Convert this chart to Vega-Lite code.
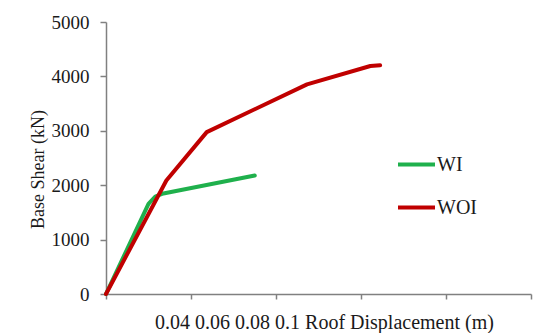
{
  "$schema": "https://vega.github.io/schema/vega-lite/v6.json",
  "width": 425,
  "height": 272,
  "autosize": "none",
  "padding": {"left": 106, "top": 22, "right": 6, "bottom": 39},
  "background": "white",
  "config": {
    "view": {"stroke": null},
    "font": "Liberation Serif"
  },
  "data": {
    "values": [
      {"series": "WI", "disp": 0, "shear": 0},
      {"series": "WI", "disp": 0.010, "shear": 1657},
      {"series": "WI", "disp": 0.0116, "shear": 1792},
      {"series": "WI", "disp": 0.0132, "shear": 1842},
      {"series": "WI", "disp": 0.035, "shear": 2179},
      {"series": "WOI", "disp": 0, "shear": 0},
      {"series": "WOI", "disp": 0.0142, "shear": 2087},
      {"series": "WOI", "disp": 0.0237, "shear": 2976},
      {"series": "WOI", "disp": 0.0473, "shear": 3854},
      {"series": "WOI", "disp": 0.0622, "shear": 4191},
      {"series": "WOI", "disp": 0.0645, "shear": 4204}
    ]
  },
  "mark": {"type": "line", "strokeWidth": 4, "strokeJoin": "round", "strokeCap": "round"},
  "encoding": {
    "x": {
      "field": "disp",
      "type": "quantitative",
      "scale": {"domain": [0, 0.1], "nice": false, "zero": true},
      "axis": {
        "values": [0, 0.02, 0.04, 0.06, 0.08, 0.1],
        "labels": false,
        "grid": false,
        "domainColor": "#808080",
        "domainWidth": 1.5,
        "tickColor": "#808080",
        "tickWidth": 1.5,
        "tickSize": 5,
        "title": "0.04 0.06 0.08 0.1 Roof Displacement (m)",
        "titleFont": "Liberation Serif",
        "titleFontSize": 20,
        "titleFontWeight": "normal",
        "titleColor": "#1a1a1a",
        "titleX": 218,
        "titleY": 34,
        "titleAlign": "center",
        "titleBaseline": "alphabetic",
        "titleAnchor": null
      }
    },
    "y": {
      "field": "shear",
      "type": "quantitative",
      "scale": {"domain": [0, 5000], "nice": false},
      "axis": {
        "values": [0, 1000, 2000, 3000, 4000, 5000],
        "format": "d",
        "grid": false,
        "domainColor": "#808080",
        "domainWidth": 1.5,
        "tickColor": "#808080",
        "tickWidth": 1.5,
        "tickSize": 6,
        "labelFont": "Liberation Serif",
        "labelFontSize": 19,
        "labelColor": "#1a1a1a",
        "labelPadding": 11,
        "title": "Base Shear (kN)",
        "titleFont": "Liberation Serif",
        "titleFontSize": 18,
        "titleFontWeight": "normal",
        "titleColor": "#1a1a1a",
        "titleX": -63,
        "titleY": 147,
        "titleAngle": -90,
        "titleAlign": "center",
        "titleBaseline": "alphabetic"
      }
    },
    "color": {
      "field": "series",
      "type": "nominal",
      "scale": {"domain": ["WI", "WOI"], "range": ["#1fb04c", "#c00000"]},
      "legend": {
        "title": null,
        "orient": "none",
        "legendX": 290,
        "legendY": 122,
        "symbolType": "stroke",
        "symbolSize": 1369,
        "symbolStrokeWidth": 4,
        "labelFont": "Liberation Serif",
        "labelFontSize": 20,
        "labelColor": "#1a1a1a",
        "labelOffset": 0,
        "rowPadding": 12
      }
    }
  }
}
